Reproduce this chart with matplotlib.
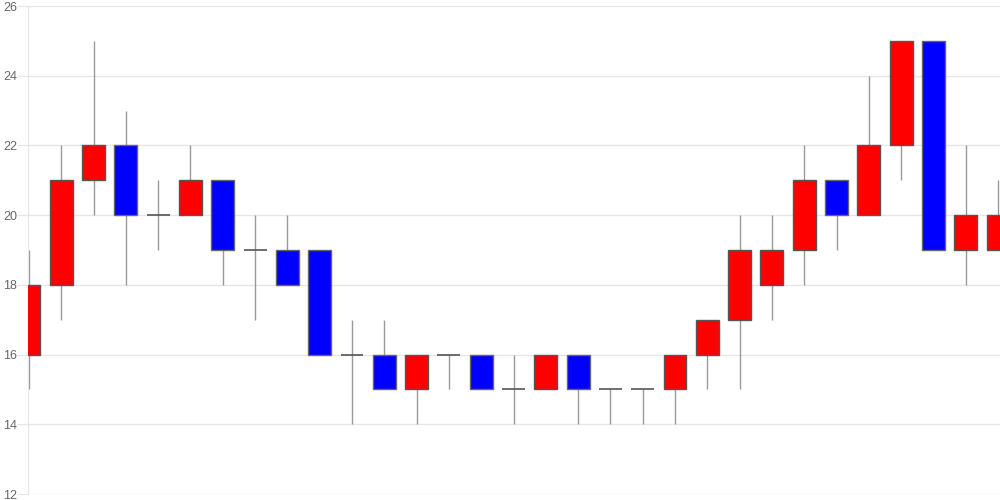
import numpy as np
import matplotlib.pyplot as plt

# OHLC values
opens = [16, 18, 21, 22, 20, 20, 21, 19, 19, 19, 16, 16, 15, 16, 16, 15, 15, 16, 15, 15,
         15, 16, 17, 18, 19, 21, 20, 22, 25, 19, 19]
highs = [19, 22, 25, 23, 21, 22, 21, 20, 20, 19, 17, 17, 16, 16, 16, 16, 16, 16, 15, 15,
         16, 17, 20, 20, 22, 21, 24, 25, 25, 22, 21]
lows = [15, 17, 20, 18, 19, 20, 18, 17, 18, 16, 14, 15, 14, 15, 15, 14, 15, 14, 14, 14,
        14, 15, 15, 17, 18, 19, 20, 21, 19, 18, 19]
closes = [18, 21, 22, 20, 20, 21, 19, 19, 18, 16, 16, 15, 16, 16, 15, 15, 16, 15, 15, 15,
          16, 17, 19, 19, 21, 20, 22, 25, 19, 20, 20]
yticks = [12, 14, 16, 18, 20, 22, 24, 26]

plt.rcParams['font.family'] = ['Liberation Sans', 'DejaVu Sans']

o = np.array(opens)
h = np.array(highs)
l = np.array(lows)
c = np.array(closes)
x = np.arange(len(o))

fig = plt.figure(figsize=(10, 5), dpi=100)
ax = fig.add_axes([0.028, 0.012, 0.972, 0.976])

ax.vlines(x, l, h, color='#999999', linewidth=1, zorder=2)

up = c > o
down = c < o
flat = c == o
w = 0.71
ax.bar(x[up], (c - o)[up], bottom=o[up], width=w, color='#ff0000',
       edgecolor='#555555', linewidth=1, zorder=3)
ax.bar(x[down], (c - o)[down], bottom=o[down], width=w, color='#0000ff',
       edgecolor='#666666', linewidth=1, zorder=3)
ax.hlines(o[flat], x[flat] - w / 2, x[flat] + w / 2, color='#555555', linewidth=1.2, zorder=3)

ax.set_xlim(-0.03, 30.06)
ax.set_ylim(12, 26)
ax.set_yticks(yticks)
ax.set_xticks([])
ax.tick_params(axis='y', length=8, color='#e6e6e6', labelcolor='#666666', labelsize=9, pad=0)
ax.grid(axis='y', color='#e6e6e6', linewidth=1)
ax.set_axisbelow(True)
for s in ['top', 'right', 'bottom']:
    ax.spines[s].set_visible(False)
ax.spines['left'].set_color('#e6e6e6')

fig.savefig('out.png')
